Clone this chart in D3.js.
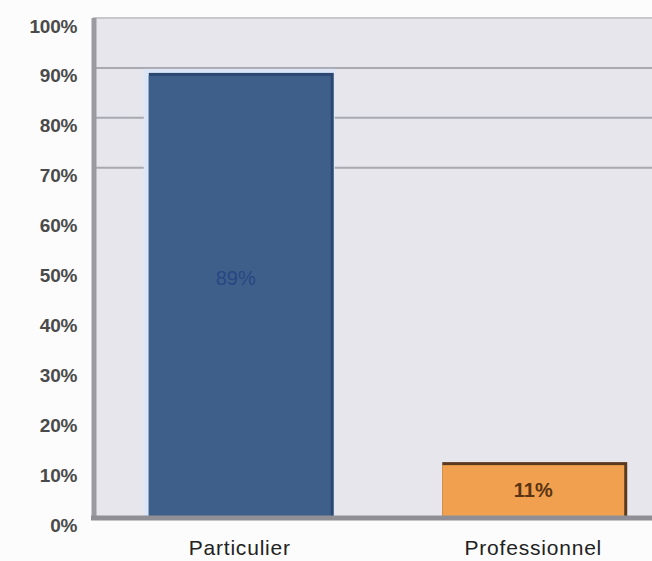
<!DOCTYPE html>
<html><head><meta charset="utf-8">
<script src="https://cdn.jsdelivr.net/npm/d3@7"></script>
<style>body{margin:0;background:#fcfcfc;}svg{display:block;}</style>
</head><body>
<svg id="c" width="652" height="561"></svg>
<script>
const categories = ["Particulier", "Professionnel"];
const values = [89, 11];
const valueLabels = ["89%", "11%"];
const yTicks = [0,10,20,30,40,50,60,70,80,90,100];
const gridTicks = [70,80,90];
const barColors = ["#3e5f8a", "#f0a04e"];
const labelColors = ["#264783", "#5a3412"];

const svg = d3.select("#c");
const pLeft = 93, pRight = 680, pTop = 18, pBottom = 517;
const x = d3.scaleBand().domain(categories).range([pLeft, pRight]).paddingInner(0.38).paddingOuter(0.19);
const y = d3.scaleLinear().domain([0,100]).range([pBottom, pTop]);
const FONT = "Liberation Sans, Arial, sans-serif";

// plot background
svg.append("rect").attr("x", pLeft).attr("y", pTop).attr("width", 652-pLeft).attr("height", pBottom-pTop).attr("fill", "#e6e6ec");
svg.append("line").attr("x1", pLeft).attr("x2", 652).attr("y1", pTop).attr("y2", pTop).attr("stroke", "#c8c8cc").attr("stroke-width", 2);

// gridlines
svg.append("g").selectAll("line").data(gridTicks).join("line")
  .attr("x1", pLeft).attr("x2", 652).attr("y1", d => y(d)).attr("y2", d => y(d))
  .attr("stroke", "#a9a9b2").attr("stroke-width", 2);

// y axis labels
const yAxis = d3.axisLeft(y).tickValues(yTicks).tickFormat(d => d + "%").tickSize(0).tickPadding(0);
const ga = svg.append("g").attr("transform", `translate(77,8)`).call(yAxis);
ga.select(".domain").remove();
ga.selectAll("text").attr("font-family", FONT).attr("font-weight", "bold")
  .attr("font-size", 19).attr("letter-spacing", "-0.3px").attr("fill", "#4a4a4a");

// bars
const bars = svg.append("g");
bars.selectAll("rect.halo").data(values).join("rect").attr("class","halo")
  .attr("x", (d,i) => x(categories[i]) - 5).attr("y", d => y(d) - 4)
  .attr("width", x.bandwidth() + 9).attr("height", d => pBottom - y(d) + 4)
  .attr("fill", (d,i) => i === 0 ? "#dde6f6" : "none");
bars.selectAll("rect.shadow").data(values).join("rect").attr("class","shadow")
  .attr("x", (d,i) => x(categories[i])).attr("y", d => y(d))
  .attr("width", x.bandwidth() + 3).attr("height", d => pBottom - y(d))
  .attr("fill", (d,i) => i === 0 ? "#2c4770" : "#5a3a1e");
bars.selectAll("rect.bar").data(values).join("rect").attr("class","bar")
  .attr("x", (d,i) => x(categories[i])).attr("y", d => y(d) + 3)
  .attr("width", x.bandwidth()).attr("height", d => pBottom - y(d) - 3)
  .attr("fill", (d,i) => barColors[i]);

// value labels
svg.append("g").selectAll("text").data(values).join("text")
  .attr("x", (d,i) => x(categories[i]) + x.bandwidth()/2 - (i === 0 ? 4 : 0))
  .attr("y", (d,i) => i === 0 ? y(d/2) - 10 : (y(d) + pBottom)/2 + 7)
  .attr("text-anchor", "middle")
  .attr("font-family", FONT).attr("font-size", 20)
  .attr("font-weight", (d,i) => i === 0 ? "normal" : "bold")
  .attr("fill", (d,i) => labelColors[i])
  .text((d,i) => valueLabels[i]);

// axis lines
svg.append("line").attr("x1", pLeft+1).attr("x2", pLeft+1).attr("y1", pTop).attr("y2", pBottom+3)
  .attr("stroke", "#9a9aa0").attr("stroke-width", 5);
svg.append("line").attr("x1", pLeft-2).attr("x2", 652).attr("y1", pBottom+1).attr("y2", pBottom+1)
  .attr("stroke", "#8f8f95").attr("stroke-width", 5);

// x labels
const xAxis = d3.axisBottom(x).tickSize(0).tickPadding(0);
const gx = svg.append("g").attr("transform", `translate(0,555)`).call(xAxis);
gx.select(".domain").remove();
gx.selectAll("text").attr("font-family", FONT).attr("font-weight", "normal")
  .attr("font-size", 21).attr("letter-spacing", "0.8px").attr("fill", "#222").attr("dy", "0");
</script>
</body></html>
